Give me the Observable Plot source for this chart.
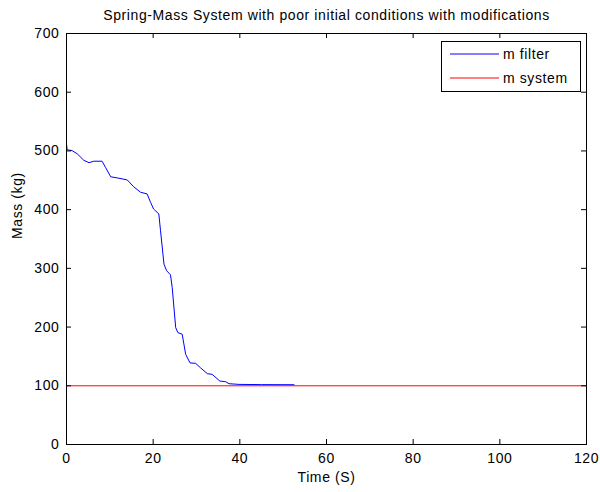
<!DOCTYPE html>
<html>
<head>
<meta charset="utf-8">
<script src="https://cdn.jsdelivr.net/npm/d3@7"></script>
<script src="https://cdn.jsdelivr.net/npm/@observablehq/plot@0.6"></script>
<style>
  html, body { margin: 0; padding: 0; background: #fff; }
  #wrap { position: relative; width: 600px; height: 492px; }
  #wrap svg text { letter-spacing: 0.6px; }
</style>
</head>
<body>
<div id="wrap"></div>
<script>
const title = "Spring-Mass System with poor initial conditions with modifications";
const xLabel = "Time (S)";
const yLabel = "Mass (kg)";
const xTicks = [0, 20, 40, 60, 80, 100, 120];
const yTicks = [0, 100, 200, 300, 400, 500, 600, 700];
const seriesNames = ["m filter", "m system"];
const seriesColors = ["#0000ff", "#ff0000"];

const filterTime = [0, 0.15, 1.3, 2.5, 4, 5.2, 6.3, 8.2, 9, 10.2, 12.1, 14, 15.5, 17.1, 18.6, 19.4, 20.1, 21.3, 21.7, 22.5, 23.1, 24, 24.4, 25.2, 25.7, 26.7, 27.5, 28.5, 29.8, 30.9, 32.5, 33.6, 35.4, 36.7, 37.5, 39.8, 45, 52.5];
const filterMass = [512, 502, 500.5, 495, 484, 480, 482.5, 482.5, 472, 456, 453.5, 450.7, 439, 429.6, 426.8, 412.5, 401, 392.7, 364, 307, 296, 289, 267, 199, 190.5, 187.8, 153.6, 139, 138.2, 130.8, 120.6, 119.5, 108, 107, 103.5, 102.4, 102, 101.8];

const systemTime = [0, 120];
const systemMass = [100, 100];

const filterData = filterTime.map((t, i) => ({t, m: filterMass[i]}));
const systemData = systemTime.map((t, i) => ({t, m: systemMass[i]}));

const W = 600, H = 492, mL = 66, mR = 14, mT = 33, mB = 48;
const fw = W - mL - mR, fh = H - mT - mB, tick = 5;

const chart = Plot.plot({
  width: W, height: H,
  marginLeft: mL, marginRight: mR, marginTop: mT, marginBottom: mB,
  style: {fontFamily: '"Liberation Sans", Arial, Helvetica, sans-serif', fontSize: "14px", background: "#fff", color: "#000", overflow: "visible"},
  x: {domain: [0, 120]},
  y: {domain: [0, 700]},
  marks: [
    Plot.line(systemData, {x: "t", y: "m", stroke: seriesColors[1], strokeWidth: 1}),
    Plot.line(filterData, {x: "t", y: "m", stroke: seriesColors[0], strokeWidth: 1}),
    Plot.frame({stroke: "#000", strokeWidth: 1}),
    Plot.tickX(xTicks, {x: d => d, insetTop: fh - tick, stroke: "#000"}),
    Plot.tickX(xTicks, {x: d => d, insetBottom: fh - tick, stroke: "#000"}),
    Plot.tickY(yTicks, {y: d => d, insetRight: fw - tick, stroke: "#000"}),
    Plot.tickY(yTicks, {y: d => d, insetLeft: fw - tick, stroke: "#000"}),
    Plot.axisX({ticks: xTicks, tickSize: 0, tickPadding: 9, label: null, tickFormat: d => String(d)}),
    Plot.axisY({ticks: yTicks, tickSize: 0, tickPadding: 7, label: null, tickFormat: d => String(d)}),
    Plot.text([xLabel], {frameAnchor: "bottom", dy: 28, lineAnchor: "top", text: d => d, fill: "#000"}),
    Plot.text([yLabel], {frameAnchor: "left", dx: -49, rotate: -90, text: d => d, fill: "#000"}),
    Plot.text([title], {frameAnchor: "top", dy: -23, lineAnchor: "top", text: d => d, fill: "#000"})
  ]
});

document.getElementById("wrap").appendChild(chart);

// Legend box drawn inside the chart's SVG (top-right of the axes)
const svg = d3.select(chart);
const lg = svg.append("g").attr("transform", "translate(441.5,41.5)");
lg.append("rect").attr("width", 139).attr("height", 50)
  .attr("fill", "#fff").attr("stroke", "#000").attr("stroke-width", 1);
seriesNames.forEach((name, i) => {
  const cy = 12.5 + i * 24;
  lg.append("line").attr("x1", 8.5).attr("x2", 57.5).attr("y1", cy).attr("y2", cy)
    .attr("stroke", seriesColors[i]).attr("stroke-width", 1);
  lg.append("text").attr("x", 61.5).attr("y", cy).attr("dy", "0.35em")
    .attr("text-anchor", "start").attr("fill", "#000").text(name);
});
</script>
</body>
</html>
